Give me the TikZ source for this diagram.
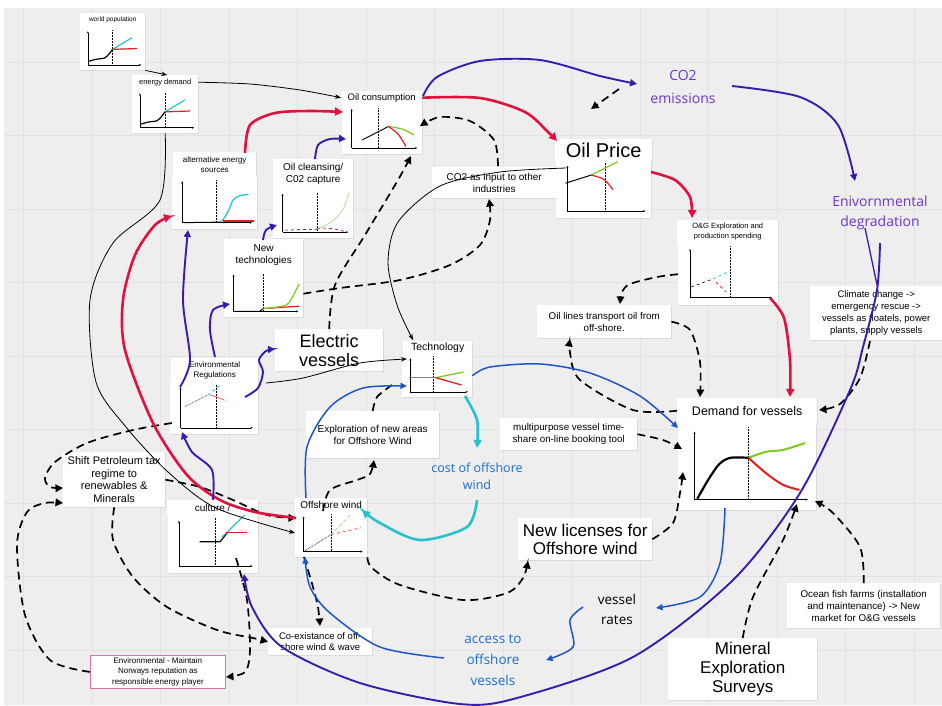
\documentclass[tikz,border=0pt]{standalone}
\usepackage{fontspec}
\setmainfont{Liberation Sans}
\newfontfamily\osans{Open Sans}
\usetikzlibrary{arrows.meta,shadows}
\definecolor{bg}{HTML}{EEEEEE}
\definecolor{gridc}{HTML}{E2E2E2}
\definecolor{pur}{HTML}{3A1BAE}
\definecolor{ptext}{HTML}{6A35D0}
\definecolor{rd}{HTML}{E2103E}
\definecolor{bl}{HTML}{1F55C8}
\definecolor{btext}{HTML}{1E6CD2}
\definecolor{cy}{HTML}{27C2CE}
\definecolor{cgreen}{HTML}{7CCB1C}
\definecolor{lgreen}{HTML}{A8DC8A}
\definecolor{cred}{HTML}{EE1A1A}
\definecolor{ccyan}{HTML}{20C8D0}
\definecolor{pinkb}{HTML}{E070A8}
\tikzset{
  lbl/.style={fill=white, inner sep=1pt, align=center, anchor=north west, text=black},
  cbox/.style={fill=white, anchor=north west, inner sep=0pt},
  shd/.style={drop shadow={shadow xshift=0.8pt, shadow yshift=-0.8pt, opacity=0.18}},
  thinc/.style={draw=black, line width=0.8pt, -{Stealth[length=6pt,width=4.5pt]}},
  redc/.style={draw=rd, line width=2.6pt, -{Triangle[length=8pt,width=8pt]}},
  purc/.style={draw=pur, line width=1.9pt, -{Triangle[length=7pt,width=7pt]}},
  bluec/.style={draw=bl, line width=1.5pt, -{Triangle[length=6.5pt,width=6pt]}},
  cyc/.style={draw=cy, line width=2.6pt, -{Triangle[length=8pt,width=8pt]}},
  dashc/.style={draw=black, line width=1.7pt, dash pattern=on 8pt off 5pt, -{Triangle[length=7.5pt,width=7.5pt]}},
  ax/.style={line width=0.5pt, -{Stealth[length=2.2pt,width=2pt]}},
  vdot/.style={densely dotted, line width=0.5pt},
}
\newcommand\mychart[5]{%
  \begin{scope}[shift={(#1,#2)},x=#3pt,y=-#4pt]
    \draw[ax] (0.12,0.88)--(0.12,0.1);
    \draw[ax] (0.12,0.88)--(0.94,0.88);
    #5
  \end{scope}}
\begin{document}
\begin{tikzpicture}[x=1pt,y=-1pt]
\useasboundingbox (0,0) rectangle (942,705);
\fill[white] (0,0) rectangle (942,705);
\fill[bg] (4,8) rectangle (942,705);
\foreach \gx in {23.5,92,160.5,...,942} \draw[gridc,line width=0.8pt] (\gx,8)--(\gx,705);
\foreach \gy in {62,135.5,...,705} \draw[gridc,line width=0.8pt] (4,\gy)--(942,\gy);

% ---------- nodes ----------
\node[lbl,shd,minimum width=65pt,minimum height=14pt,font=\fontsize{6.5}{8}\selectfont] (wp) at (80,13) {world population};
\node[cbox,shd,minimum width=65pt,minimum height=43pt] (wpC) at (80,27) {};
\node[lbl,shd,minimum width=66pt,minimum height=14pt,font=\fontsize{7.5}{9}\selectfont] (ed) at (132,75) {energy demand};
\node[cbox,shd,minimum width=66pt,minimum height=44pt] (edC) at (132,89) {};
\node[lbl,shd,minimum width=81pt,minimum height=13pt,font=\fontsize{9.5}{11}\selectfont] (oc) at (341,91) {Oil consumption};
\node[cbox,shd,minimum width=80pt,minimum height=50pt] (ocC) at (342,104) {};
\node[lbl,shd,minimum width=83pt,minimum height=24pt,font=\fontsize{8}{10}\selectfont] (ae) at (173,152) {alternative energy\\sources};
\node[cbox,shd,minimum width=85pt,minimum height=53pt] (aeC) at (172,176) {};
\node[lbl,shd,minimum width=80pt,minimum height=30pt,font=\fontsize{10}{12}\selectfont] (cl) at (273,159) {Oil cleansing/\\C02 capture};
\node[cbox,shd,minimum width=80pt,minimum height=49pt] (clC) at (273,189) {};
\node[lbl,shd,minimum width=79pt,minimum height=31pt,font=\fontsize{10}{12}\selectfont] (nt) at (224,239) {New\\technologies};
\node[cbox,shd,minimum width=79pt,minimum height=47pt] (ntC) at (224,270) {};
\node[lbl,shd,minimum width=108pt,minimum height=42pt,font=\fontsize{18}{19}\selectfont] (ev) at (275,329) {Electric\\vessels};
\node[lbl,shd,minimum width=87pt,minimum height=24pt,font=\fontsize{8}{10}\selectfont] (er) at (171,358) {Environmental\\Regulations};
\node[cbox,shd,minimum width=88pt,minimum height=52pt] (erC) at (170,382) {};
\node[lbl,shd,minimum width=69pt,minimum height=13pt,font=\fontsize{10.5}{12}\selectfont] (te) at (403,341) {Technology};
\node[cbox,shd,minimum width=70pt,minimum height=43pt] (teC) at (402,354) {};
\node[lbl,shd,minimum width=124pt,minimum height=31pt,font=\fontsize{10}{12}\selectfont] (co2in) at (432,167) {CO2 as input to other\\industries};
\node[lbl,shd,minimum width=97pt,minimum height=22pt,font=\fontsize{20}{22}\selectfont] (op) at (555,139) {Oil Price};
\node[cbox,shd,minimum width=95pt,minimum height=58pt] (opC) at (556,160) {};
\node[lbl,shd,minimum width=101pt,minimum height=23pt,font=\fontsize{7.5}{9.5}\selectfont] (oge) at (677,220) {O\&G Exploration and\\production spending};
\node[cbox,shd,minimum width=100pt,minimum height=62pt] (ogeC) at (678,243) {};
\node[lbl,shd,minimum width=134pt,minimum height=33pt,font=\fontsize{9.8}{12}\selectfont] (oil) at (537,305) {Oil lines transport oil from\\off-shore.};
\node[lbl,shd,minimum width=132pt,minimum height=54pt,font=\fontsize{9.5}{12}\selectfont] (clim) at (810,286) {Climate change ->\\emergency rescue ->\\vessels as floatels, power\\plants, supply vessels};
\node[lbl,shd,minimum width=140pt,minimum height=25pt,font=\fontsize{12.5}{14}\selectfont] (dem) at (677,398) {Demand for vessels};
\node[cbox,shd,minimum width=138pt,minimum height=87pt] (demC) at (678,423) {};
\node[lbl,shd,minimum width=137pt,minimum height=32pt,font=\fontsize{9.8}{12}\selectfont] (multi) at (500,418) {multipurpose vessel time-\\share on-line booking tool};
\node[lbl,shd,minimum width=133pt,minimum height=47pt,font=\fontsize{10}{12}\selectfont] (expl) at (306,411) {Exploration of new areas\\for Offshore Wind};
\node[font=\osans\fontsize{12.5}{17}\selectfont,text=btext,align=center] (cost) at (477,476) {cost of offshore\\wind};
\node[lbl,shd,minimum width=72pt,minimum height=14pt,font=\fontsize{10}{12}\selectfont] (ow) at (295,498) {Offshore wind};
\node[cbox,shd,minimum width=72pt,minimum height=45pt] (owC) at (295,512) {};
\node[lbl,shd,minimum width=134pt,minimum height=42pt,font=\fontsize{17}{18.5}\selectfont] (nl) at (518,518) {New licenses for\\Offshore wind};
\node[font=\osans\fontsize{13.5}{20}\selectfont,text=black,align=center] (vr) at (617,609) {vessel\\rates};
\node[font=\osans\fontsize{13.5}{21}\selectfont,text=btext,align=center] (acc) at (493,660) {access to\\offshore\\vessels};
\node[lbl,shd,minimum width=104pt,minimum height=27pt,font=\fontsize{9.5}{11.5}\selectfont] (coex) at (268,628) {Co-existance of off-\\shore wind \& wave};
\node[lbl,draw=pinkb,line width=0.8pt,minimum width=135pt,minimum height=33pt,font=\fontsize{8}{10.5}\selectfont] (envm) at (90,655) {Environmental - Maintain\\Norways reputation as\\responsible energy player};
\node[lbl,shd,minimum width=102pt,minimum height=55pt,font=\fontsize{11}{12.5}\selectfont] (shift) at (63,452) {Shift Petroleum tax\\regime to\\renewables \&\\Minerals};
\node[lbl,shd,minimum width=91pt,minimum height=15pt,font=\fontsize{10}{12}\selectfont] (cu) at (167,500) {culture /};
\node[cbox,shd,minimum width=90pt,minimum height=58pt] (cuC) at (168,515) {};
\node[lbl,shd,minimum width=149pt,minimum height=62pt,font=\fontsize{17}{19}\selectfont] (mes) at (668,638) {Mineral\\Exploration\\Surveys};
\node[lbl,shd,minimum width=153pt,minimum height=45pt,font=\fontsize{9.8}{12}\selectfont] (ocean) at (787,583) {Ocean fish farms (installation\\and maintenance) -> New\\market for O\&G vessels};
\node[font=\osans\fontsize{14}{23}\selectfont,text=ptext,align=center] (co2e) at (683,87) {CO2\\emissions};
\node[font=\osans\fontsize{14}{20}\selectfont,text=ptext,align=center] (envd) at (880,213) {Enivornmental\\degradation};

% ---------- charts ----------
\mychart{80}{27}{65}{43}{
  \draw[vdot] (0.5,0.08)--(0.5,0.88);
  \draw[line width=1.2pt] plot[smooth] coordinates {(0.13,0.8)(0.25,0.75)(0.38,0.72)(0.45,0.62)(0.5,0.52)};
  \draw[ccyan,line width=1.2pt] (0.5,0.52)--(0.8,0.25);
  \draw[cred,line width=1.2pt] (0.5,0.52)--(0.88,0.5);}
\mychart{132}{89}{66}{44}{
  \draw[vdot] (0.5,0.08)--(0.5,0.88);
  \draw[line width=1.2pt] plot[smooth] coordinates {(0.13,0.8)(0.25,0.75)(0.38,0.72)(0.45,0.62)(0.5,0.52)};
  \draw[ccyan,line width=1.2pt] (0.5,0.52)--(0.8,0.25);
  \draw[cred,line width=1.2pt] (0.5,0.52)--(0.88,0.5);}
\mychart{342}{104}{80}{50}{
  \draw[vdot] (0.45,0.08)--(0.45,0.88);
  \draw[line width=0.9pt] (0.25,0.72)--(0.58,0.45);
  \draw[cgreen,line width=1.2pt] plot[smooth] coordinates {(0.58,0.45)(0.75,0.5)(0.9,0.62)};
  \draw[cred,line width=1.2pt] plot[smooth] coordinates {(0.58,0.45)(0.7,0.6)(0.8,0.85)};}
\mychart{172}{176}{85}{53}{
  \draw[vdot] (0.52,0.08)--(0.52,0.88);
  \draw[line width=1pt] (0.14,0.88)--(0.58,0.87);
  \draw[ccyan,line width=1.3pt] plot[smooth] coordinates {(0.58,0.86)(0.65,0.7)(0.72,0.45)(0.8,0.37)(0.9,0.35)};
  \draw[cred,line width=1.3pt] (0.6,0.85)--(0.97,0.85);}
\mychart{273}{189}{80}{49}{
  \draw[vdot] (0.55,0.08)--(0.55,0.88);
  \draw[line width=0.6pt,dashed] (0.15,0.84)--(0.55,0.82);
  \draw[lgreen,line width=0.7pt] plot[smooth] coordinates {(0.55,0.82)(0.75,0.65)(0.88,0.4)(0.95,0.08)};
  \draw[cred,line width=0.8pt,dashed] plot[smooth] coordinates {(0.55,0.8)(0.75,0.81)(0.92,0.88)};}
\mychart{224}{270}{79}{47}{
  \draw[vdot] (0.5,0.08)--(0.5,0.88);
  \draw[line width=1pt] (0.14,0.88)--(0.45,0.88)--(0.5,0.82);
  \draw[cred,line width=1.2pt] (0.5,0.82)--(0.95,0.77);
  \draw[cgreen,line width=1.2pt] plot[smooth] coordinates {(0.5,0.82)(0.7,0.78)(0.82,0.7)(0.95,0.3)};}
\mychart{170}{382}{88}{52}{
  \draw[vdot] (0.53,0.05)--(0.53,0.88);
  \draw[line width=0.6pt,densely dotted] (0.17,0.47)--(0.43,0.25);
  \draw[ccyan,line width=0.8pt,dashed] (0.43,0.25)--(0.58,0.05);
  \draw[cred!70,line width=0.8pt] plot[smooth] coordinates {(0.45,0.25)(0.55,0.3)(0.62,0.35)};}
\mychart{402}{354}{70}{43}{
  \draw[vdot] (0.45,0.05)--(0.45,0.88);
  \draw[gray,line width=0.7pt] (0.1,0.55)--(0.48,0.55);
  \draw[cgreen,line width=1.3pt] (0.48,0.55)--(0.88,0.42);
  \draw[cred,line width=1.3pt] (0.48,0.55)--(0.85,0.72);}
\mychart{556}{160}{95}{58}{
  \draw[vdot] (0.52,0.05)--(0.52,0.88);
  \draw[line width=1pt] (0.1,0.4)--(0.37,0.26);
  \draw[cgreen,line width=1.2pt] (0.37,0.26)--(0.65,0.03);
  \draw[cred,line width=1.2pt] plot[smooth] coordinates {(0.37,0.26)(0.5,0.33)(0.6,0.51)};}
\mychart{678}{243}{100}{62}{
  \draw[vdot] (0.52,0.05)--(0.52,0.88);
  \draw[line width=0.6pt,dashed] (0.13,0.71)--(0.35,0.58);
  \draw[ccyan,line width=0.8pt,dashed] (0.35,0.58)--(0.52,0.45);
  \draw[cred,line width=0.8pt,dashed] (0.38,0.63)--(0.48,0.79);}
\mychart{678}{423}{138}{87}{
  \draw[vdot] (0.51,0.05)--(0.51,0.88);
  \draw[line width=2.2pt] plot[smooth] coordinates {(0.14,0.87)(0.22,0.65)(0.3,0.47)(0.38,0.4)(0.51,0.4)};
  \draw[cgreen,line width=2pt] plot[smooth] coordinates {(0.51,0.4)(0.64,0.33)(0.76,0.31)(0.92,0.23)};
  \draw[cred,line width=2pt] plot[smooth] coordinates {(0.51,0.4)(0.64,0.58)(0.76,0.71)(0.88,0.77)};}
\mychart{295}{512}{72}{45}{
  \draw[vdot] (0.5,0.05)--(0.5,0.88);
  \draw[line width=0.7pt,densely dotted] (0.14,0.86)--(0.5,0.5);
  \draw[lgreen,line width=0.8pt,dashed] (0.5,0.5)--(0.78,0.05);
  \draw[cred!80,line width=0.8pt,dashed] (0.5,0.5)--(0.92,0.35);}
\mychart{168}{515}{90}{58}{
  \draw[vdot] (0.52,0.05)--(0.52,0.88);
  \draw[line width=1.2pt] (0.35,0.46)--(0.58,0.46)--(0.66,0.3);
  \draw[ccyan,line width=1.2pt] (0.6,0.38)--(0.85,0.0);
  \draw[cred,line width=1.3pt] (0.64,0.3)--(0.88,0.3);}

% ---------- coordinates ----------
\coordinate (c3) at (295,533);
\coordinate (d0) at (566,168);  \coordinate (d1) at (413,340);
\coordinate (e0) at (266,383);  \coordinate (e1) at (407,359);
\coordinate (r1) at (557,141);
\coordinate (r2a) at (245,153); \coordinate (r2b) at (343,112);
\coordinate (r3a) at (651,172); \coordinate (r3b) at (692,218);
\coordinate (r4a) at (770,298); \coordinate (r4b) at (790,397);
\coordinate (r5a) at (296,518); \coordinate (r5b) at (172,216);
\coordinate (p1a) at (423,96);  \coordinate (p1b) at (637,84);
\coordinate (p2a) at (732,86);  \coordinate (p2b) at (855,181);
\coordinate (p3a) at (880,243); \coordinate (p3b) at (244,574);
\coordinate (p3c) at (865,228); \coordinate (p3d) at (877,285);
\coordinate (p4a) at (180,387); \coordinate (p4b) at (188,230);
\coordinate (p5a) at (215,357); \coordinate (p5b) at (230,304);
\coordinate (p6a) at (263,240); \coordinate (p6b) at (277,225);
\coordinate (p7a) at (315,159); \coordinate (p7b) at (346,139);
\coordinate (p8a) at (245,397); \coordinate (p8b) at (275,349);
\coordinate (p9a) at (213,500); \coordinate (p9b) at (182,432);
\coordinate (b1b) at (678,428);
\coordinate (b2a) at (306,498); \coordinate (b2b) at (407,386);
\coordinate (b3a) at (725,508); \coordinate (b3b) at (656,608);
\coordinate (b4a) at (583,607); \coordinate (b4b) at (546,660);
\coordinate (b5a) at (444,658); \coordinate (b5b) at (305,557);
\coordinate (c1a) at (465,396); \coordinate (c1b) at (477,448);
\coordinate (c2a) at (477,500); \coordinate (c2b) at (362,510);
\coordinate (d1b) at (528,561);
\coordinate (d2b) at (683,472);
\coordinate (d3a) at (323,511); \coordinate (d3b) at (374,460);
\coordinate (d4b) at (392,385);
\coordinate (d5b) at (411,156);
\coordinate (d6b) at (489,199);
\coordinate (d7a) at (498,166); \coordinate (d7b) at (420,126);
\coordinate (d8a) at (619,89);  \coordinate (d8b) at (591,109);
\coordinate (d9b) at (620,304);
\coordinate (d10b) at (700,397);
\coordinate (d11b) at (570,339);
\coordinate (d12b) at (682,449);
\coordinate (d13a) at (870,341); \coordinate (d13b) at (819,410);
\coordinate (d14b) at (797,504);
\coordinate (d15b) at (815,501);
\coordinate (d16a) at (172,423); \coordinate (d16b) at (63,488);
\coordinate (d17b) at (63,503);
\coordinate (d19b) at (296,518);
\coordinate (d20a) at (236,558); \coordinate (d20b) at (226,677);
\coordinate (d21a) at (304,557); \coordinate (d21b) at (320,626);

% ---------- dashed connectors ----------
\draw[dashc] plot[smooth] coordinates {(owC.south east) (372,568) (400,585) (463,600) (507,593) (523,578) (d1b)};
\draw[dashc] plot[smooth] coordinates {(nl.east) (673,523) (680,493) (d2b)};
\draw[dashc] plot[smooth] coordinates {(d3a) (330,490) (357,480) (370,474) (d3b)};
\draw[black,line width=1.7pt,dash pattern=on 8pt off 5pt] plot[smooth] coordinates {(expl.north) (377,397) (d4b)};
\draw[dashc] plot[smooth] coordinates {(ev.north) (335,285) (365,235) (398,180) (d5b)};
\draw[dashc] plot[smooth] coordinates {(ntC.east) (340,288) (400,280) (450,265) (480,245) (490,220) (d6b)};
\draw[dashc] plot[smooth] coordinates {(d7a) (494,140) (470,121) (440,117) (d7b)};
\draw[dashc] (d8a) -- (d8b);
\draw[dashc] plot[smooth] coordinates {(ogeC.west) (657,277) (630,284) (622,292) (d9b)};
\draw[dashc] plot[smooth] coordinates {(oil.east) (690,330) (700,362) (d10b)};
\draw[dashc] plot[smooth] coordinates {(dem.west) (633,410) (580,380) (570,353) (d11b)};
\draw[dashc] plot[smooth] coordinates {(multi.east) (663,440) (d12b)};
\draw[dashc] plot[smooth] coordinates {(d13a) (860,378) (840,404) (d13b)};
\draw[dashc] plot[smooth] coordinates {(mes.north) (753,597) (783,540) (d14b)};
\draw[dashc] plot[smooth] coordinates {(ocean.north) (860,547) (833,513) (d15b)};
\draw[dashc] plot[smooth] coordinates {(d16a) (133,430) (87,443) (55,462) (45,478) (50,487) (d16b)};
\draw[dashc] plot[smooth] coordinates {(envm.west) (50,660) (25,615) (17,545) (27,512) (45,503) (d17b)};
\draw[dashc] plot[smooth] coordinates {(shift.south) (113,540) (133,577) (167,607) (217,630) (253,638) (coex.west)};
\draw[dashc] plot[smooth] coordinates {(shift.east) (200,487) (233,500) (267,515) (d19b)};
\draw[dashc] plot[smooth] coordinates {(d20a) (247,600) (250,650) (245,672) (d20b)};
\draw[dashc] plot[smooth] coordinates {(d21a) (313,587) (318,607) (d21b)};

% ---------- thin black ----------
\draw[thinc] (wpC.south east) -- ([xshift=2pt]ed.north);
\draw[thinc] plot[smooth] coordinates {(ed.east) (250,84) (300,90) (oc.west)};
\draw[thinc] plot[smooth] coordinates {(edC.south) (160,200) (113,243) (90,300) (96,382) (126,427) (168,472) (216,508) (c3)};
\draw[thinc] plot[smooth] coordinates {(d0) (500,172) (440,186) (398,222) (388,262) (397,305) (d1)};
\draw[thinc] plot[smooth] coordinates {(e0) (303,378) (360,363) (e1)};

% ---------- red ----------
\draw[redc] plot[smooth] coordinates {(oc.east) (480,98) (525,112) (548,132) (r1)};
\draw[redc] plot[smooth] coordinates {(r2a) (250,125) (275,113) (310,111) (r2b)};
\draw[redc] plot[smooth] coordinates {(r3a) (675,180) (690,197) (r3b)};
\draw[redc] plot[smooth] coordinates {(r4a) (784,318) (790,360) (r4b)};
\draw[redc] plot[smooth] coordinates {(r5a) (255,512) (220,500) (187,475) (153,423) (125,350) (123,300) (135,255) (155,225) (r5b)};

% ---------- purple ----------
\draw[purc] plot[smooth] coordinates {(p1a) (437,77) (480,61) (540,60) (600,76) (p1b)};
\draw[purc] plot[smooth] coordinates {(p2a) (800,97) (838,125) (p2b)};
\draw[purc] plot[smooth] coordinates {(p3a) (877,290) (863,347) (850,390) (800,493) (733,580) (633,657) (517,698) (460,704) (360,683) (282,647) (252,607) (p3b)};
\draw[pur,line width=1.3pt] (p3c) -- (p3d);
\draw[purc] plot[smooth] coordinates {(p4a) (190,360) (183,300) (p4b)};
\draw[purc] plot[smooth] coordinates {(p5a) (210,330) (213,310) (p5b)};
\draw[purc] plot[smooth] coordinates {(p6a) (266,230) (p6b)};
\draw[purc] plot[smooth] coordinates {(p7a) (318,145) (330,139) (p7b)};
\draw[purc] plot[smooth] coordinates {(p8a) (258,388) (263,372) (259,360) (266,351) (p8b)};
\draw[purc] plot[smooth] coordinates {(p9a) (212,470) (192,452) (p9b)};

% ---------- blue ----------
\draw[bluec] plot[smooth] coordinates {(teC.east) (490,367) (540,364) (590,373) (640,396) (b1b)};
\draw[bluec] plot[smooth] coordinates {(b2a) (307,447) (330,407) (363,388) (b2b)};
\draw[bluec] plot[smooth] coordinates {(b3a) (720,563) (700,597) (b3b)};
\draw[bluec] plot[smooth] coordinates {(b4a) (570,620) (573,647) (b4b)};
\draw[bluec] plot[smooth] coordinates {(b5a) (380,647) (330,613) (310,587) (b5b)};

% ---------- cyan ----------
\draw[cyc] plot[smooth] coordinates {(c1a) (477,420) (c1b)};
\draw[cyc] plot[smooth] coordinates {(c2a) (467,527) (420,540) (380,523) (c2b)};
\end{tikzpicture}
\end{document}
